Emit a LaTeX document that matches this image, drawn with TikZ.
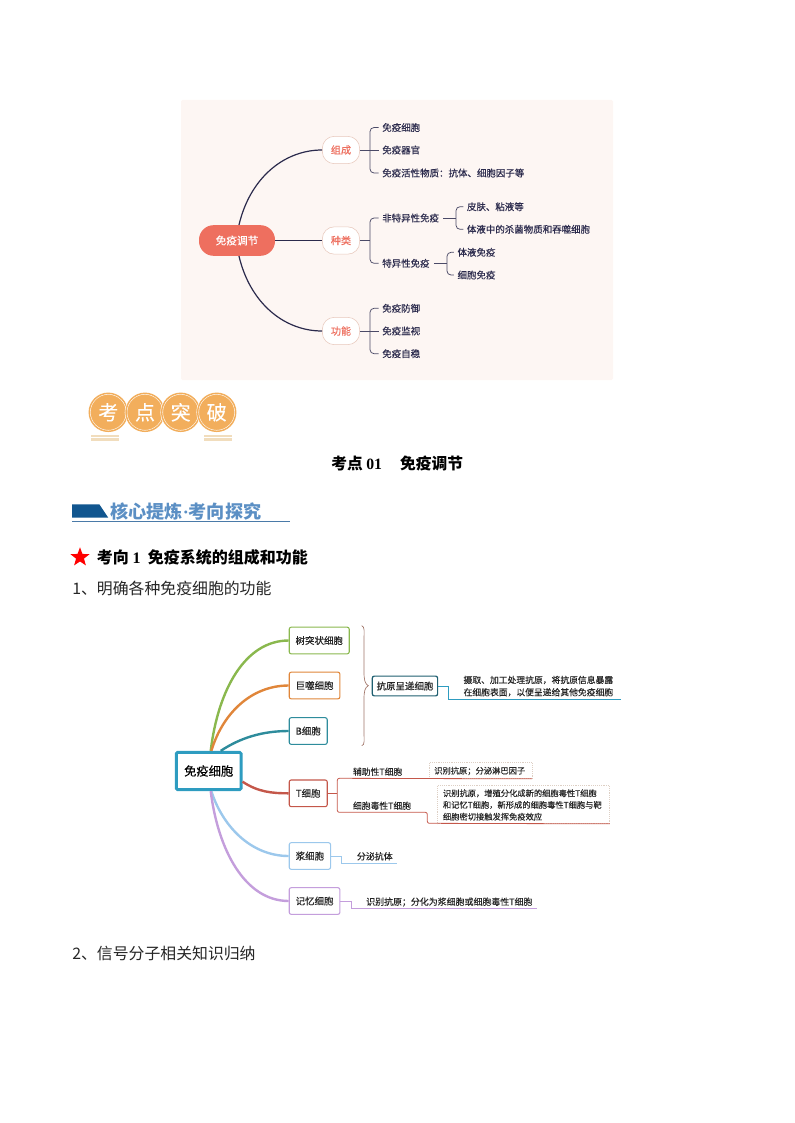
\documentclass[tikz,border=0pt]{standalone}
\usepackage{fontspec}
\setmainfont{Noto Sans CJK SC}
\newfontfamily\cjkmid[FakeBold=0.3]{Noto Sans CJK SC}
\newfontfamily\serifnum{Liberation Serif}
\usetikzlibrary{shapes.geometric, calc, positioning}

\definecolor{panelbg}{HTML}{FDF6F3}
\definecolor{coral}{HTML}{EE6F5F}
\definecolor{coraledge}{HTML}{E8C8BC}
\definecolor{navyink}{HTML}{2B2A4C}
\definecolor{medal}{HTML}{F2AE5C}
\definecolor{medalbar}{HTML}{F1DDBD}
\definecolor{headblue}{HTML}{5B8FC4}
\definecolor{headdark}{HTML}{11568F}
\definecolor{headline}{HTML}{4A7AA8}
\definecolor{cellblue}{HTML}{2E9CC0}
\definecolor{cgreen}{HTML}{8AB84E}
\definecolor{corange}{HTML}{E0863A}
\definecolor{cteal}{HTML}{2E8C9C}
\definecolor{cred}{HTML}{C4574A}
\definecolor{clight}{HTML}{9CC8EC}
\definecolor{cpurple}{HTML}{C49EDC}
\definecolor{cdeep}{HTML}{1F5F70}
\definecolor{cbrace}{HTML}{A07468}
\definecolor{dashedge}{HTML}{DDCFC4}

\tikzset{
    mapone/.style={inner sep=0pt, anchor=west, text=navyink, font=\cjkmid\fontsize{7.1}{8.5}\selectfont},
    twig/.style={navyink!85, line width=0.55pt, rounded corners=3pt},
    limb/.style={navyink, line width=0.9pt},
    midnode/.style={draw=coraledge, fill=white, rounded corners=9pt, text=coral, minimum width=28pt, minimum height=20.5pt, inner sep=0pt, font=\cjkmid\fontsize{7.6}{9}\selectfont},
    medaldisk/.style={circle, fill=medal, draw=white, double=medal, double distance=1.1pt, line width=0.4pt, minimum size=28.5pt, inner sep=0pt, text=white, font=\cjkmid\fontsize{15}{17}\selectfont},
    cellnode/.style={draw=#1, rounded corners=1.5pt, line width=0.8pt, fill=white, minimum height=20pt, inner sep=0pt, text=black!85, font=\cjkmid\fontsize{7.1}{8.5}\selectfont},
    cellcurve/.style={draw=#1, line width=1.8pt},
    cellwire/.style={draw=#1, line width=0.6pt},
    small/.style={inner sep=0pt, anchor=west, text=black!85, font=\cjkmid\fontsize{6.6}{8.8}\selectfont},
    notebox/.style={draw=dashedge, densely dotted, line width=0.4pt, inner sep=0pt, anchor=north west},
    bodyline/.style={inner sep=0pt, anchor=west, text=black!85, font=\fontsize{11.9}{14}\selectfont},
}

\begin{document}
\begin{tikzpicture}[x=0.75pt, y=-0.75pt]
    \useasboundingbox (0,0) rectangle (794,1123);

    % first map
    \fill[panelbg, rounded corners=1pt] (181,100) rectangle (613,380);

    \node[fill=coral, rounded corners=11pt, text=white, minimum width=57pt, minimum height=23pt, inner sep=0pt, font=\cjkmid\fontsize{8}{9}\selectfont] (immune) at (237,240.5) {免疫调节};
    \node[midnode] (zucheng) at (341,150) {组成};
    \node[midnode] (zhonglei) at (341,240.5) {种类};
    \node[midnode] (gongneng) at (341,331) {功能};

    \draw[limb] ([xshift=1.5pt]immune.north) .. controls (250,178) and (284,150) .. (zucheng.west);
    \draw[limb] (immune.east) -- (zhonglei.west);
    \draw[limb] ([xshift=1.5pt]immune.south) .. controls (250,303) and (284,331) .. (gongneng.west);

    \node[mapone] (cells) at (382,127.5) {免疫细胞};
    \node[mapone] (organs) at (382,150) {免疫器官};
    \node[mapone] (actives) at (382,173) {免疫活性物质：抗体、细胞因子等};
    \node[mapone] (nonspec) at (382,218) {非特异性免疫};
    \node[mapone] (spec) at (382,263.3) {特异性免疫};
    \node[mapone] (skin) at (466.7,206.7) {皮肤、粘液等};
    \node[mapone] (fluid) at (466.7,229.3) {体液中的杀菌物质和吞噬细胞};
    \node[mapone] (humoral) at (457.3,252.3) {体液免疫};
    \node[mapone] (cellular) at (457.3,275) {细胞免疫};
    \node[mapone] (defence) at (382,308.3) {免疫防御};
    \node[mapone] (watch) at (382,331) {免疫监视};
    \node[mapone] (steady) at (382,353.7) {免疫自稳};

    \draw[twig] ([xshift=-2.5pt]cells.west) -| (370,150) |- ([xshift=-2.5pt]actives.west);
    \draw[twig] (zucheng.east) -- ([xshift=-2.5pt]organs.west);
    \draw[twig] ([xshift=-2.5pt]nonspec.west) -| (370,240.5) |- ([xshift=-2.5pt]spec.west);
    \draw[twig] (zhonglei.east) -- (370,240.5);
    \draw[twig] ([xshift=-2.5pt]skin.west) -| (456,218) |- ([xshift=-2.5pt]fluid.west);
    \draw[twig] ([xshift=3pt]nonspec.east) -- (456,218);
    \draw[twig] ([xshift=-2.5pt]humoral.west) -| (447,263.3) |- ([xshift=-2.5pt]cellular.west);
    \draw[twig] ([xshift=3pt]spec.east) -- (447,263.3);
    \draw[twig] ([xshift=-2.5pt]defence.west) -| (370,331) |- ([xshift=-2.5pt]steady.west);
    \draw[twig] (gongneng.east) -- ([xshift=-2.5pt]watch.west);

    % headings
    \foreach \name/\cx/\ch in {kao/108.3/考, dian/145/点, tu/180.7/突, po/216.7/破}
        \node[medaldisk] (\name) at (\cx,412.3) {\ch};
    \foreach \bx in {90.7,204} {
        \fill[medalbar] (\bx,435) rectangle (\bx+28,437.4);
        \fill[medalbar] (\bx,438.3) rectangle (\bx+28,440.7);
    }

    \node[inner sep=0pt, anchor=west, font=\fontsize{11.8}{14}\bfseries\selectfont] (title) at (331,464) {考点 {\serifnum 01}\hspace{1.15em}免疫调节};

    \fill[headdark] (72,504.3) -- (99.3,504.3) -- (108.3,517.7) -- (72,517.7) -- cycle;
    \draw[headline, line width=0.7pt] (72,521.3) -- (290,521.3);
    \node[inner sep=0pt, anchor=west, text=headblue, font=\fontsize{13.6}{15}\bfseries\selectfont] (core) at (110,512) {核心提炼{\serifnum ·}考向探究};

    \node[star, star points=5, star point ratio=2.4, fill=red, inner sep=0pt, minimum size=15pt] (mark) at (80,557.3) {};
    \node[bodyline, text=black, font=\fontsize{12}{14}\bfseries\selectfont] (topic) at (96.7,557) {考向 {\serifnum 1}\hspace{0.45em}免疫系统的组成和功能};
    \node[bodyline] (first) at (72,588) {1、明确各种免疫细胞的功能};
    \node[bodyline] (second) at (72,953) {2、信号分子相关知识归纳};

    % second map
    \node[draw=cellblue, line width=2.2pt, rounded corners=1pt, fill=white, minimum width=48.5pt, minimum height=28pt, inner sep=0pt, font=\cjkmid\fontsize{9.2}{11}\selectfont] (cellroot) at (208.7,771) {免疫细胞};

    \node[cellnode=cgreen, minimum width=45pt, anchor=west] (dendritic) at (288.7,640.5) {树突状细胞};
    \node[cellnode=corange, minimum width=38pt, anchor=west] (macro) at (288.7,685.5) {巨噬细胞};
    \node[cellnode=cteal, minimum width=28.5pt, anchor=west] (bcell) at (288.7,731) {B细胞};
    \node[cellnode=cred, minimum width=28.5pt, anchor=west] (tcell) at (288.7,793.3) {T细胞};
    \node[cellnode=clight, minimum width=31pt, anchor=west] (plasma) at (288.7,856) {浆细胞};
    \node[cellnode=cpurple, minimum width=38pt, anchor=west] (memory) at (288.7,901) {记忆细胞};

    \draw[cellcurve=cgreen] ([xshift=1.5pt]cellroot.north) .. controls (218,690) and (245,640.5) .. (dendritic.west);
    \draw[cellcurve=corange] ([xshift=2pt]cellroot.north) .. controls (222,715) and (250,685.5) .. (macro.west);
    \draw[cellcurve=cteal] ([xshift=9pt]cellroot.north) .. controls (240,738) and (262,731) .. (bcell.west);
    \draw[cellcurve=cred] ([yshift=-8pt]cellroot.east) .. controls (258,792) and (272,793.3) .. (tcell.west);
    \draw[cellcurve=clight] ([xshift=2pt]cellroot.south) .. controls (222,825) and (250,856) .. (plasma.west);
    \draw[cellcurve=cpurple] ([xshift=1.5pt]cellroot.south) .. controls (218,850) and (245,901) .. (memory.west);

    \draw[cbrace, line width=0.5pt] (361.7,625.7) .. controls (365,626.5) and (364,632) .. (364,640) -- (364,672) .. controls (364,680) and (365,684) .. (368.3,685.7) .. controls (365,687.5) and (364,691) .. (364,699) -- (364,732) .. controls (364,740) and (365,745) .. (361.7,745.7);

    \node[draw=cdeep, line width=0.9pt, rounded corners=1.5pt, fill=white, minimum width=49pt, minimum height=14.8pt, inner sep=0pt, anchor=west, text=black!85, font=\cjkmid\fontsize{7.1}{8.5}\selectfont] (apc) at (371.7,686) {抗原呈递细胞};
    \coordinate (apcend) at (620.7,699.3);
    \draw[cellwire=cellblue] (apc.east) -- (448.3,686) -- (448.3,699.3) -- (apcend);
    \node[small] (apcnote1) at (463.3,680) {摄取、加工处理抗原，将抗原信息暴露};
    \node[small] (apcnote2) at (463.3,692.3) {在细胞表面，以便呈递给其他免疫细胞};

    \node[small] (helper) at (352.7,771.7) {辅助性T细胞};
    \node[small] (killer) at (352.7,805.7) {细胞毒性T细胞};
    \node[notebox, minimum width=77.2pt, minimum height=12pt] (helpbox) at (428.7,762.3) {};
    \node[notebox, minimum width=129pt, minimum height=28.5pt] (killbox) at (437.3,785.3) {};
    \node[small, font=\cjkmid\fontsize{6.2}{8}\selectfont] (helptext) at (434,771) {识别抗原；分泌淋巴因子};
    \node[small, font=\cjkmid\fontsize{6.2}{8}\selectfont] (killtext1) at (442.7,793.3) {识别抗原，增殖分化成新的细胞毒性T细胞};
    \node[small, font=\cjkmid\fontsize{6.2}{8}\selectfont] (killtext2) at (442.7,805) {和记忆T细胞，新形成的细胞毒性T细胞与靶};
    \node[small, font=\cjkmid\fontsize{6.2}{8}\selectfont] (killtext3) at (442.7,816.7) {细胞密切接触发挥免疫效应};

    \draw[cellwire=cred] (tcell.east) -- (337.3,793.3);
    \draw[cellwire=cred, rounded corners=1.5pt] (helpbox.south east) -- (337.3,778.3) -- (337.3,812.3) -- (427.3,812.3) -- (427.3,823.3) -- (killbox.south east);

    \node[small, font=\cjkmid\fontsize{6.7}{8}\selectfont] (secrete) at (356.7,856.3) {分泌抗体};
    \coordinate (plasmaend) at (396.7,863.7);
    \draw[cellwire=clight] (plasma.east) -- (341.7,856) -- (341.7,863.7) -- (plasmaend);

    \node[small, font=\cjkmid\fontsize{6.7}{8}\selectfont] (recog) at (366,902) {识别抗原；分化为浆细胞或细胞毒性T细胞};
    \coordinate (memoryend) at (537.3,908.7);
    \draw[cellwire=cpurple] (memory.east) -- (351,901) -- (351,908.7) -- (memoryend);
\end{tikzpicture}
\end{document}
